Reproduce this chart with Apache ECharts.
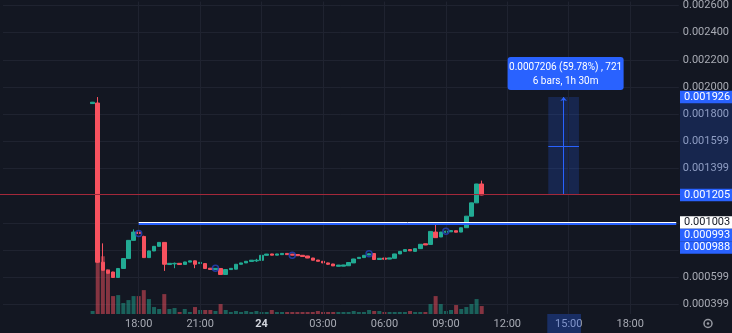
<!DOCTYPE html>
<html><head><meta charset="utf-8">
<script src="https://cdn.jsdelivr.net/npm/echarts@6/dist/echarts.min.js"></script>
<style>html,body{margin:0;padding:0;background:#131722;}#c{width:732px;height:333px;}</style>
</head><body><div id="c"></div>
<script>
// ---- time axis ----
const axisStartDay = 23, axisStartMinutes = 11 * 60 + 30, slotMinutes = 15, slotCount = 132;
const firstBarCategory = '23 15:45';
const xTickCategories = ['23 18:00', '23 21:00', '24 00:00', '24 03:00', '24 06:00', '24 09:00', '24 12:00', '24 15:00', '24 18:00'];
const xTickTexts = ['18:00', '21:00', '24', '03:00', '06:00', '09:00', '12:00', '15:00', '18:00'];
const boldTickCategory = '24 00:00';

// ---- price axis ----
const yMax = 0.0026293, yMin = 0.0003289;
const yTickValues = [0.0026, 0.0024, 0.0022, 0.0020, 0.0018, 0.0016, 0.0014, 0.0006, 0.0004];
const yTickLabels = ['0.002600', '0.002400', '0.002200', '0.002000', '0.001800', '0.001599', '0.001399', '0.000599', '0.000399'];
const yGridValues = [0.0026, 0.0024, 0.0022, 0.0020, 0.0018, 0.0016, 0.0014, 0.0010, 0.0008, 0.0006, 0.0004];

// ---- candles (15 min), from 23 15:45 ----
const opens = [0.001878, 0.001882, 0.000710, 0.000651, 0.000638, 0.000598, 0.000664, 0.000737, 0.000871, 0.000932,
  0.000900, 0.000744, 0.000793, 0.000827, 0.000856, 0.000693, 0.000698, 0.000702, 0.000694, 0.000711,
  0.000720, 0.000700, 0.000700, 0.000666, 0.000656, 0.000664, 0.000620, 0.000656, 0.000659, 0.000695,
  0.000705, 0.000716, 0.000720, 0.000724, 0.000761, 0.000771, 0.000762, 0.000766, 0.000775, 0.000770,
  0.000767, 0.000761, 0.000756, 0.000741, 0.000726, 0.000717, 0.000705, 0.000697, 0.000680, 0.000681,
  0.000684, 0.000705, 0.000737, 0.000744, 0.000763, 0.000774, 0.000730, 0.000741, 0.000733, 0.000739,
  0.000771, 0.000790, 0.000803, 0.000790, 0.000810, 0.000846, 0.000841, 0.000932, 0.000896, 0.000930,
  0.000934, 0.000942, 0.000932, 0.000964, 0.001049, 0.001147, 0.001286];
const closes = [0.001888, 0.000710, 0.000651, 0.000629, 0.000598, 0.000664, 0.000737, 0.000871, 0.000932, 0.000922,
  0.000744, 0.000793, 0.000827, 0.000856, 0.000695, 0.000702, 0.000702, 0.000693, 0.000712, 0.000720,
  0.000695, 0.000709, 0.000664, 0.000657, 0.000665, 0.000620, 0.000656, 0.000665, 0.000695, 0.000705,
  0.000717, 0.000725, 0.000725, 0.000761, 0.000770, 0.000762, 0.000771, 0.000775, 0.000766, 0.000762,
  0.000758, 0.000752, 0.000741, 0.000725, 0.000717, 0.000705, 0.000695, 0.000683, 0.000689, 0.000690,
  0.000708, 0.000734, 0.000746, 0.000761, 0.000772, 0.000730, 0.000739, 0.000732, 0.000742, 0.000771,
  0.000790, 0.000803, 0.000794, 0.000810, 0.000842, 0.000837, 0.000937, 0.000891, 0.000932, 0.000939,
  0.000943, 0.000931, 0.000964, 0.001049, 0.001147, 0.001286, 0.001205];
const highs = [0.001890, 0.001926, 0.000849, 0.000655, 0.000640, 0.000666, 0.000739, 0.000873, 0.000952, 0.001003,
  0.000905, 0.000795, 0.000829, 0.000858, 0.000858, 0.000703, 0.000708, 0.000703, 0.000713, 0.000721,
  0.000722, 0.000710, 0.000701, 0.000667, 0.000666, 0.000665, 0.000657, 0.000666, 0.000696, 0.000706,
  0.000718, 0.000726, 0.000735, 0.000762, 0.000771, 0.000772, 0.000772, 0.000776, 0.000776, 0.000771,
  0.000768, 0.000762, 0.000757, 0.000742, 0.000727, 0.000718, 0.000707, 0.000698, 0.000690, 0.000691,
  0.000709, 0.000735, 0.000747, 0.000762, 0.000773, 0.000775, 0.000740, 0.000742, 0.000743, 0.000772,
  0.000791, 0.000804, 0.000804, 0.000811, 0.000843, 0.000847, 0.000938, 0.000988, 0.000933, 0.000940,
  0.000944, 0.000943, 0.000965, 0.001050, 0.001148, 0.001287, 0.001311];
const lows = [0.001877, 0.000705, 0.000648, 0.000626, 0.000596, 0.000597, 0.000663, 0.000736, 0.000870, 0.000918,
  0.000742, 0.000742, 0.000792, 0.000826, 0.000646, 0.000692, 0.000666, 0.000692, 0.000693, 0.000710,
  0.000666, 0.000699, 0.000663, 0.000656, 0.000655, 0.000619, 0.000619, 0.000655, 0.000658, 0.000694,
  0.000704, 0.000715, 0.000712, 0.000723, 0.000760, 0.000761, 0.000761, 0.000765, 0.000765, 0.000761,
  0.000757, 0.000751, 0.000740, 0.000724, 0.000716, 0.000704, 0.000690, 0.000682, 0.000679, 0.000680,
  0.000683, 0.000704, 0.000736, 0.000743, 0.000762, 0.000729, 0.000729, 0.000731, 0.000732, 0.000738,
  0.000770, 0.000789, 0.000793, 0.000789, 0.000809, 0.000836, 0.000840, 0.000890, 0.000895, 0.000929,
  0.000933, 0.000930, 0.000931, 0.000963, 0.001048, 0.001146, 0.001203];
const volumes = [3, 70, 58, 45, 18, 19, 11, 14, 18, 18,
  24, 15, 7, 5, 20, 5, 6, 2, 5, 2,
  7, 4, 4, 4, 3, 10, 4, 2, 3, 2,
  3, 2, 3, 2, 2, 4, 2, 2, 2, 2,
  2, 2, 2, 2, 3, 2, 2, 2, 2, 2,
  2, 3, 2, 2, 4, 3, 3, 2, 2, 2,
  2, 2, 3, 2, 2, 2, 10, 18, 10, 3,
  4, 9, 5, 7, 10, 15, 8];
const volAxisMax = 314;
const markerBarIdx = [9, 24, 39, 54, 69];

// ---- drawings ----
const rayStartIdx = 9;
const whiteLevel = 0.001003, blueLevel = 0.000993, extraTag = 0.000988;
const measureFrom = '24 14:00', measureTo = '24 15:30', measureMid = '24 14:45';
const measureLow = 0.001205, measureHigh = 0.001926;
const measureTexts = ['0.0007206 (59.78%) , 721', '6 bars, 1h 30m'];

// ---- build ----
const pad = n => (n < 10 ? '0' : '') + n;
const categories = [];
for (let s = 0; s < slotCount; s++) {
  const m = axisStartMinutes + s * slotMinutes;
  const day = axisStartDay + Math.floor(m / 1440), mm = m % 1440;
  categories.push(day + ' ' + pad(Math.floor(mm / 60)) + ':' + pad(mm % 60));
}
const firstSlot = categories.indexOf(firstBarCategory);
const UP = '#22ab94', DOWN = '#f7525f';
const candleData = categories.map(() => '-');
const volData = categories.map(() => '-');
for (let i = 0; i < opens.length; i++) {
  const s = firstSlot + i;
  candleData[s] = [opens[i], closes[i], lows[i], highs[i]];
  volData[s] = { value: volumes[i], itemStyle: { color: closes[i] >= opens[i] ? 'rgba(34,171,148,0.5)' : 'rgba(247,82,95,0.5)' } };
}
const markerData = markerBarIdx.map(i => [firstSlot + i, closes[i]]);
const lastClose = closes[closes.length - 1];
const sFrom = categories.indexOf(measureFrom), sTo = categories.indexOf(measureTo), sMid = categories.indexOf(measureMid);
const midLevel = (measureLow + measureHigh) / 2;
const FONT = 'Roboto';
const gridLineColor = '#1f2330';

const chart = echarts.init(document.getElementById('c'));
const gridLeft = 3, gridRight = 52, gridBottom = 19;
chart.setOption({
  backgroundColor: '#131722',
  animation: false,
  grid: { left: gridLeft, right: gridRight, top: 0, bottom: gridBottom },
  xAxis: {
    type: 'category', data: categories, boundaryGap: true,
    axisLine: { show: false }, axisTick: { show: false }, splitLine: { show: false },
    axisLabel: {
      margin: 5, fontFamily: FONT, fontSize: 11, color: '#a8abb4',
      interval: (idx, val) => xTickCategories.includes(val),
      formatter: val => {
        const k = xTickCategories.indexOf(val);
        if (k < 0) return '';
        return val === boldTickCategory ? '{b|' + xTickTexts[k] + '}' : xTickTexts[k];
      },
      rich: { b: { fontWeight: 'bold', color: '#d1d4dc', fontFamily: FONT, fontSize: 11 } }
    }
  },
  yAxis: [{
    type: 'value', position: 'right', min: yMin, max: yMax, scale: true,
    axisLine: { show: false },
    axisTick: { show: false, customValues: yGridValues },
    splitLine: { show: true, lineStyle: { color: gridLineColor, width: 1 } },
    axisLabel: {
      customValues: yTickValues, margin: 4, align: 'left', fontFamily: FONT, fontSize: 11, color: '#a8abb4',
      formatter: v => { const k = yTickValues.indexOf(v); return k < 0 ? '' : yTickLabels[k]; }
    }
  }, {
    type: 'value', min: 0, max: volAxisMax, show: false, splitLine: { show: false }
  }],
  series: [{
    type: 'line', data: [], z: 1, silent: true,
    markLine: {
      silent: true, symbol: ['none', 'none'], label: { show: false },
      lineStyle: { color: gridLineColor, type: 'solid', width: 1 },
      data: xTickCategories.map(c => ({ xAxis: c }))
    }
  }, {
    type: 'bar', yAxisIndex: 1, data: volData, barWidth: 4, z: 2, silent: true
  }, {
    type: 'candlestick', data: candleData, barWidth: 4, z: 3,
    itemStyle: { color: UP, color0: DOWN, borderColor: UP, borderColor0: DOWN, borderWidth: 1 },
    markArea: {
      silent: true,
      itemStyle: { color: 'rgba(41,98,255,0.2)' },
      data: [[{ coord: [sFrom, measureHigh] }, { coord: [sTo, measureLow] }]]
    },
    markLine: {
      silent: true, symbol: ['none', 'none'], label: { show: false }, animation: false,
      data: [
        [{ coord: [firstSlot + rayStartIdx, blueLevel], lineStyle: { color: '#2962ff', width: 2, type: 'solid' } }, { coord: [slotCount - 1, blueLevel] }],
        [{ coord: [firstSlot + rayStartIdx, whiteLevel], lineStyle: { color: '#ffffff', width: 1, type: 'solid' } }, { coord: [slotCount - 1, whiteLevel] }],
        [{ coord: [sMid, measureLow], lineStyle: { color: '#2962ff', width: 1, type: 'solid' } }, { coord: [sMid, measureHigh], symbol: 'arrow', symbolSize: [5, 4] }],
        [{ coord: [sFrom, midLevel], lineStyle: { color: '#2962ff', width: 1, type: 'solid' } }, { coord: [sTo, midLevel] }]
      ]
    }
  }, {
    type: 'scatter', data: markerData, symbol: 'circle', symbolSize: 6, z: 5, silent: true,
    itemStyle: { color: 'rgba(0,0,0,0)', borderColor: '#2445c0', borderWidth: 1.5 }
  }]
});

// ---- overlays positioned through the chart's own scales ----
const W = chart.getWidth(), H = chart.getHeight();
const axisX = W - gridRight, plotBottom = H - gridBottom;
const P = (x, v) => chart.convertToPixel({ gridIndex: 0 }, [x, v]);
const yHi = P(sFrom, measureHigh)[1], yLo = P(sFrom, measureLow)[1];
const xL = P(sFrom, 0)[0], xR = P(sTo, 0)[0], xM = P(sMid, 0)[0];
const yLast = Math.round(P(0, lastClose)[1]) - 0.5;
const gfx = [];
gfx.push({ type: 'line', z: 40, silent: true, shape: { x1: 0, y1: yLast, x2: axisX, y2: yLast }, style: { stroke: '#a3283a', lineWidth: 1 } });
gfx.push({ type: 'rect', z: 50, shape: { x: axisX, y: yHi, width: gridRight, height: yLo - yHi }, style: { fill: 'rgba(41,98,255,0.2)' } });
gfx.push({ type: 'rect', z: 50, shape: { x: xL - 1, y: plotBottom, width: xR - xL + 3, height: gridBottom }, style: { fill: 'rgba(41,98,255,0.3)' } });
const tags = [
  { v: measureHigh, bg: '#2962ff', fg: '#ffffff' },
  { v: lastClose, bg: '#2962ff', fg: '#ffffff' },
  { v: whiteLevel, bg: '#ffffff', fg: '#131722' },
  { v: blueLevel, bg: '#2962ff', fg: '#ffffff' },
  { v: extraTag, bg: '#2962ff', fg: '#ffffff' }
];
let prevBottom = -1e9;
const TAG_H = 12.5;
tags.forEach(t => {
  let top = P(0, t.v)[1] - TAG_H / 2;
  if (top < prevBottom) top = prevBottom;
  prevBottom = top + TAG_H;
  gfx.push({ type: 'rect', z: 60, shape: { x: axisX, y: top, width: gridRight, height: TAG_H }, style: { fill: t.bg } });
  gfx.push({ type: 'text', z: 61, x: axisX + 4, y: top + TAG_H / 2, style: { text: t.v.toFixed(6), fill: t.fg, font: '11px ' + FONT, textVerticalAlign: 'middle', verticalAlign: 'middle' } });
});
const TW = 116, TH = 33;
const tTop = yHi - 7 - TH;
gfx.push({ type: 'rect', z: 60, shape: { x: xM - TW / 2 + 2, y: tTop, width: TW, height: TH, r: 3 }, style: { fill: '#2962ff' } });
measureTexts.forEach((t, i) => {
  gfx.push({ type: 'text', z: 61, x: xM + 2, y: tTop + 10 + i * 14, style: { text: t, fill: '#ffffff', font: '10px ' + FONT, align: 'center', textAlign: 'center', verticalAlign: 'middle', textVerticalAlign: 'middle' } });
});
gfx.push({ type: 'circle', z: 60, shape: { cx: W - 24, cy: plotBottom + 9.5, r: 4 }, style: { fill: 'none', stroke: '#9598a1', lineWidth: 1.5 } });
gfx.push({ type: 'circle', z: 60, shape: { cx: W - 24, cy: plotBottom + 9.5, r: 1.3 }, style: { fill: '#9598a1' } });
chart.setOption({ graphic: gfx });
</script></body></html>
